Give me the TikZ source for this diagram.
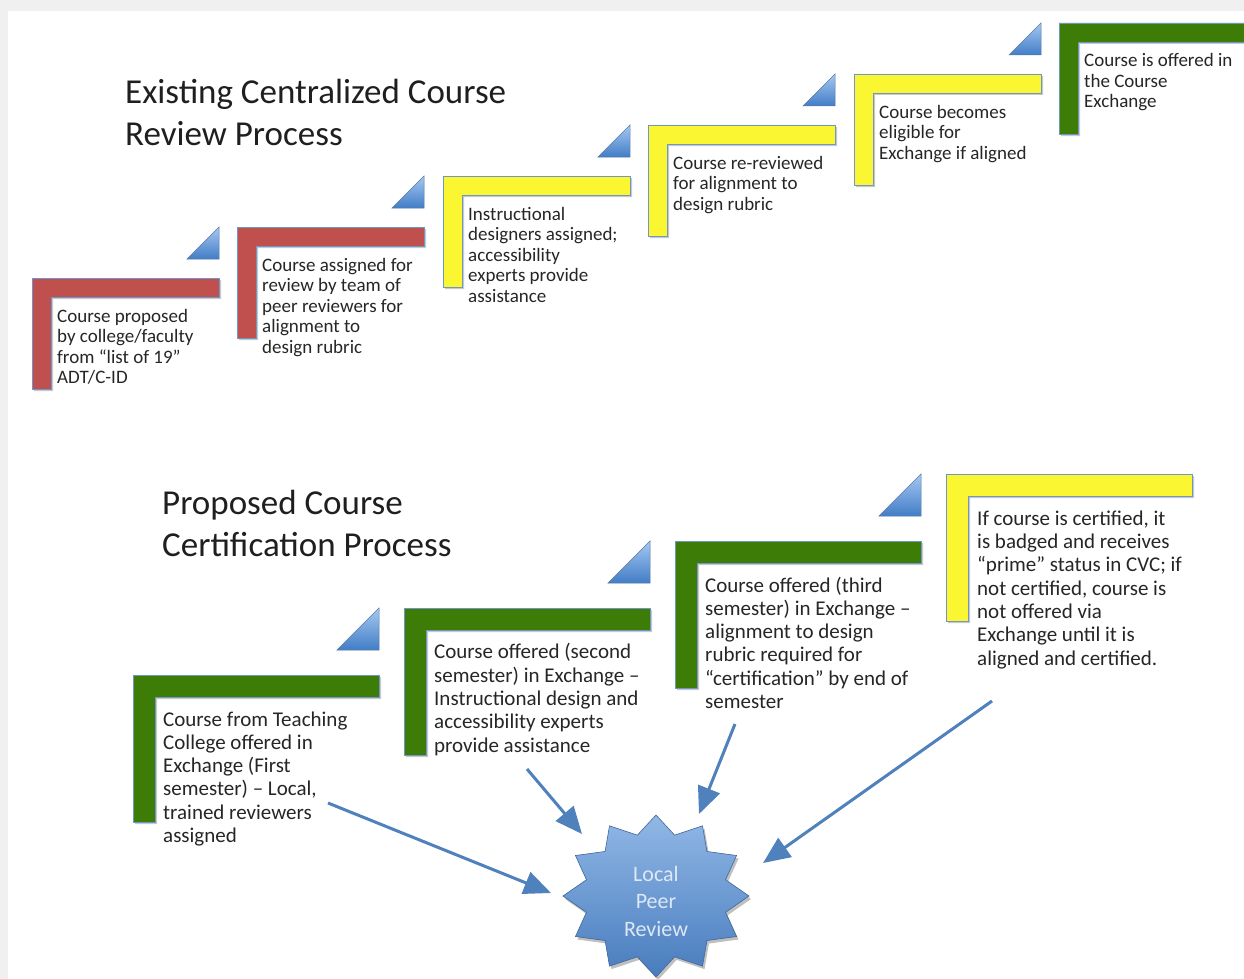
\documentclass[tikz,border=0pt]{standalone}
\usepackage{fontspec}
\setmainfont{Carlito}
\usetikzlibrary{arrows.meta,shadows}
\definecolor{redL}{RGB}{192,80,77}
\definecolor{yelL}{RGB}{250,246,50}
\definecolor{grnL}{RGB}{62,124,8}
\definecolor{edgeL}{RGB}{110,150,200}
\definecolor{triTop}{RGB}{165,200,242}
\definecolor{triBot}{RGB}{66,125,198}
\definecolor{arrBlue}{RGB}{79,129,189}
\definecolor{starTop}{RGB}{145,184,230}
\definecolor{starBot}{RGB}{72,124,190}
\definecolor{txtc}{RGB}{38,38,38}
\definecolor{bgGray}{RGB}{240,240,240}
\definecolor{starTxt}{RGB}{222,232,244}
\tikzset{
  lstyle/.style={draw=edgeL, line width=0.8pt,
    drop shadow={shadow xshift=2pt, shadow yshift=-2pt, opacity=0.35, fill=black!60}},
  tristyle/.style={draw=edgeL!80!black, line width=0.5pt, top color=triTop, bottom color=triBot},
  txtS/.style={anchor=base west, align=left, inner sep=0pt, text=txtc,
    font=\fontsize{19}{20.5}\selectfont},
  txtB/.style={anchor=base west, align=left, inner sep=0pt, text=txtc,
    font=\fontsize{21}{23.3}\selectfont},
  titleS/.style={anchor=base west, align=left, inner sep=0pt, text=black!88,
    font=\fontsize{35}{42}\selectfont},
  arr/.style={draw=arrBlue, line width=3pt, -{Triangle[length=27pt,width=23pt]}},
}
\newcommand{\Lbox}[6]{%
  \path[lstyle, fill=#6] (#1,#2) -- ++(#3,0) -- ++(0,#5) -- ++({-(#3)+(#5)},0)
    -- ++(0,{(#4)-(#5)}) -- ++({-(#5)},0) -- cycle;}
\newcommand{\Tri}[3]{%
  \path[tristyle] (#1,#2) -- (#1,{#2+#3}) -- ({#1-#3},{#2+#3}) -- cycle;}
\begin{document}
\begin{tikzpicture}[x=1pt,y=-1pt]
\useasboundingbox (0,0) rectangle (1244,979);
\fill[bgGray] (0,0) rectangle (1244,979);
\fill[white] (8,11) rectangle (1244,979);

% titles (base anchor = baseline of last line)
\node[titleS] (title1) at (125,145) {Existing Centralized Course\\Review Process};
\node[titleS] (title2) at (162,556) {Proposed Course\\Certification Process};

% top row
\Lbox{32}{278}{187}{111}{19}{redL}
\Lbox{237}{227}{187}{111}{19}{redL}
\Lbox{443}{176}{187}{111}{19}{yelL}
\Lbox{648}{125}{187}{111}{19}{yelL}
\Lbox{854}{74}{187}{111}{19}{yelL}
\Lbox{1059}{23}{187}{111}{19}{grnL}
\Tri{219}{227}{32}
\Tri{424}{176}{32}
\Tri{630}{125}{32}
\Tri{835}{74}{32}
\Tri{1041}{23}{32}

\node[txtS] (t1) at (57,383.5) {Course proposed\\by college/faculty\\from “list of 19”\\ADT/C-ID};
\node[txtS] (t2) at (262,353) {Course assigned for\\review by team of\\peer reviewers for\\alignment to\\design rubric};
\node[txtS] (t3) at (468,302) {Instructional\\designers assigned;\\accessibility\\experts provide\\assistance};
\node[txtS] (t4) at (673,210) {Course re-reviewed\\for alignment to\\design rubric};
\node[txtS] (t5) at (879,159) {Course becomes\\eligible for\\Exchange if aligned};
\node[txtS] (t6) at (1084,108) {Course is offered in\\the Course\\Exchange};

% bottom row
\Lbox{133}{675}{246}{147}{22}{grnL}
\Lbox{404}{608}{246}{147}{22}{grnL}
\Lbox{675}{541}{246}{147}{22}{grnL}
\Lbox{946}{474}{246}{147}{22}{yelL}
\Tri{379}{608}{42}
\Tri{650}{541}{42}
\Tri{921}{474}{42}

\node[txtB] (b1) at (163,842.5) {Course from Teaching\\College offered in\\Exchange (First\\semester) – Local,\\trained reviewers\\assigned};
\node[txtB] (b2) at (434,752) {Course offered (second\\semester) in Exchange –\\Instructional design and\\accessibility experts\\provide assistance};
\node[txtB] (b3) at (705,708.5) {Course offered (third\\semester) in Exchange –\\alignment to design\\rubric required for\\“certification” by end of\\semester};
\node[txtB] (b4) at (977,665) {If course is certified, it\\is badged and receives\\“prime” status in CVC; if\\not certified, course is\\not offered via\\Exchange until it is\\aligned and certified.};

% star
\begin{scope}[shift={(658,899)}]
\fill[black, opacity=0.25] (90:93 and 81) \foreach \a in {90,120,...,420} { -- ({\a+15}:72 and 63) -- ({\a+30}:93 and 81) } -- cycle;
\end{scope}
\begin{scope}[shift={(656,896)}]
\path[draw=arrBlue!80!black, line width=0.6pt, top color=starTop, bottom color=starBot]
  (90:93 and 81) \foreach \a in {90,120,...,420} { -- ({\a+15}:72 and 63) -- ({\a+30}:93 and 81) } -- cycle;
\end{scope}
\node[align=center, inner sep=0pt, text=starTxt, font=\fontsize{22}{27.5}\selectfont] (star) at (656,901) {Local\\Peer\\Review};

% arrows
\coordinate (a1s) at (328,803);
\coordinate (a1e) at (551,893);
\coordinate (a2s) at (527,769);
\coordinate (a2e) at (582,834);
\coordinate (a3s) at (735,724);
\coordinate (a3e) at (699,814);
\coordinate (a4s) at (992,701);
\coordinate (a4e) at (763,863);
\draw[arr] (a1s) -- (a1e);
\draw[arr] (a2s) -- (a2e);
\draw[arr] (a3s) -- (a3e);
\draw[arr] (a4s) -- (a4e);
\end{tikzpicture}
\end{document}
